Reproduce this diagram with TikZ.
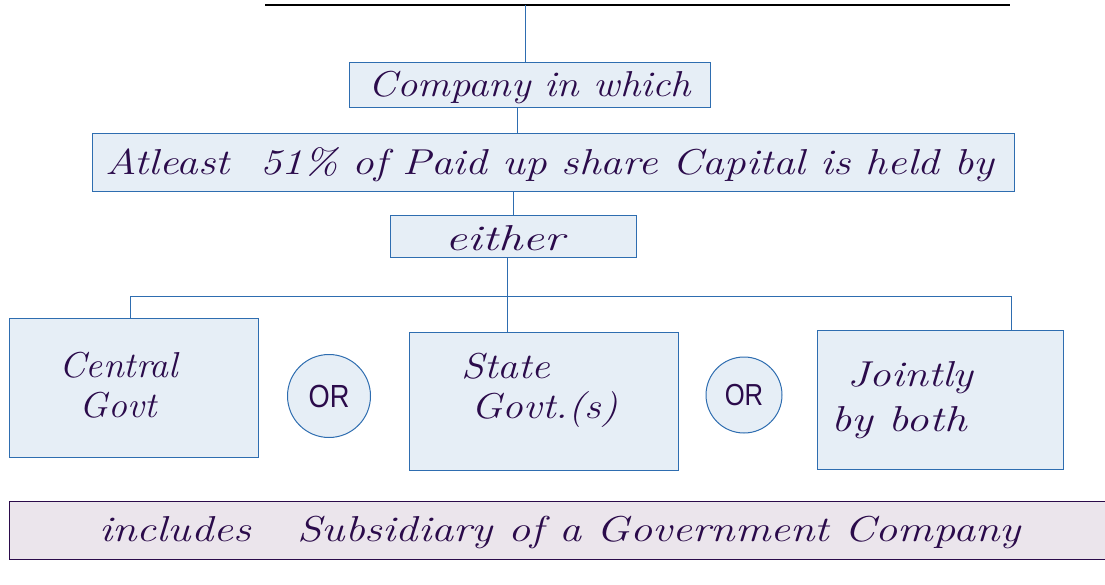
\documentclass[tikz,border=0pt]{standalone}
\usepackage{fontspec}
\setmainfont{Latin Modern Roman}
\newfontfamily\orfont{Liberation Sans}
\definecolor{boxfill}{HTML}{E6EEF6}
\definecolor{boxline}{HTML}{2E6DB0}
\definecolor{ink}{HTML}{2B0B4B}
\definecolor{subfill}{HTML}{EBE5EC}
\begin{document}
\begin{tikzpicture}[x=1pt,y=-1pt,
  box/.style={draw=boxline, fill=boxfill, line width=1pt, inner sep=0pt, text=ink},
  conn/.style={draw=boxline, line width=1pt},
  hand/.style={font=\fontsize{36}{40}\selectfont\itshape, text=ink},
  orc/.style={circle, draw=boxline, fill=boxfill, line width=1pt, text=ink, inner sep=0pt, font=\orfont\fontsize{32}{34}\selectfont},
  subbox/.style={draw=ink, fill=subfill, line width=1pt, inner sep=0pt, text=ink}]
\useasboundingbox (0,0) rectangle (1105,585);
% title underline
\draw[black, line width=1.2pt] (265,5) -- (1010,5);
\coordinate (top) at (525,5);
% boxes
\node[box, minimum width=361pt, minimum height=45pt] (b1) at (529.5,85.5) {};
\node[box, minimum width=922pt, minimum height=58pt] (b2) at (553,163) {};
\node[box, minimum width=246pt, minimum height=42pt] (b3) at (513,237) {};
\node[box, minimum width=249pt, minimum height=139pt] (b4) at (133.5,387.5) {};
\node[box, minimum width=269pt, minimum height=138pt] (b5) at (543.5,401) {};
\node[box, minimum width=246pt, minimum height=139pt] (b6) at (940,399.5) {};
\node[orc, minimum size=83pt] (or1) at (329,396) {\scalebox{0.85}[1]{OR}};
\node[orc, minimum size=76pt] (or2) at (744,395) {\scalebox{0.8}[0.95]{OR}};
\node[subbox, minimum width=1110pt, minimum height=58pt, anchor=west] (b7) at (9,530) {};
% box texts
\node[hand] (t1) at (530,88) {\scalebox{1.13}[1]{Company in which}};
\node[hand] (t2) at (550,165) {\scalebox{1.2}[1]{Atleast\ \ 51\% of Paid up share Capital is held by}};
\node[hand] (t3) at (505,238) {\scalebox{1.35}[1]{either}};
\node[hand, align=left, anchor=west] (t4) at (56,385) {\scalebox{1.05}[1]{Central}\\\hspace{20pt}\scalebox{1.05}[1]{Govt}};
\node[hand, align=left, anchor=west] (t5) at (458,390) {\scalebox{1.15}[1]{State}\\\hspace{10pt}\scalebox{1.15}[1]{Govt.(s)}};
\node[hand, align=left, anchor=west, font=\fontsize{36}{45}\selectfont\itshape] (t6) at (828,400) {\hspace{16pt}\scalebox{1.2}[1]{Jointly}\\\scalebox{1.25}[1]{by both}};
\node[hand] (t7) at (560,532) {\scalebox{1.23}[1]{includes\ \ \ Subsidiary of a Government Company}};
% connectors
\coordinate (bus) at (507,296);
\coordinate (bL) at (130,296);
\coordinate (bR) at (1011,296);
\draw[conn] (top) -- (top |- b1.north);
\draw[conn] ([xshift=-12pt]b1.south) -- ([xshift=-12pt]b1.south |- b2.north);
\draw[conn] (b2.south) ++(-40,0) coordinate (c2) -- (c2 |- b3.north);
\draw[conn] (b3.south -| bus) -- (bus);
\draw[conn] (b4.north -| bL) -- (bL) -- (bR) -- (b6.north -| bR);
\draw[conn] (bus) -- (b5.north -| bus);
\end{tikzpicture}
\end{document}
